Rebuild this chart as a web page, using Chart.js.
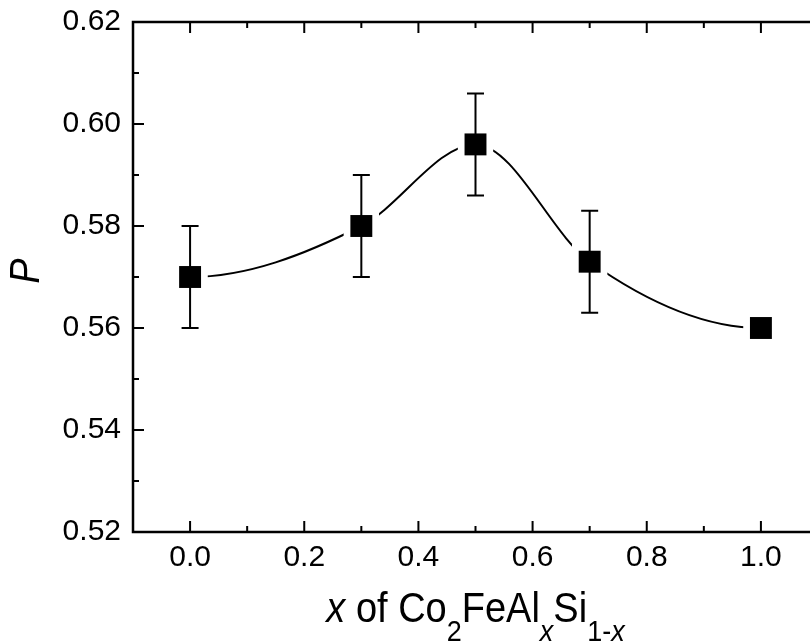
<!DOCTYPE html>
<html>
<head>
<meta charset="utf-8">
<script src="https://cdn.jsdelivr.net/npm/chart.js@4.4.1/dist/chart.umd.min.js"></script>
<style>
  html, body { margin: 0; padding: 0; background: #fff; overflow: hidden; width: 810px; height: 644px; }
  #wrap { width: 830px; height: 644px; }
  #chart { display: block; width: 830px; height: 644px; }
</style>
</head>
<body>
<div id="wrap"><canvas id="chart" width="830" height="644"></canvas></div>
<script>
// data
const xValues = [0.0, 0.3, 0.5, 0.7, 1.0];
const pValues = [0.570, 0.580, 0.596, 0.573, 0.560];
const pErrors = [0.010, 0.010, 0.010, 0.010, 0];

const xTicks = [0.0, 0.2, 0.4, 0.6, 0.8, 1.0];
const xMinorTicks = [-0.1, 0.1, 0.3, 0.5, 0.7, 0.9];
const yTicks = [0.52, 0.54, 0.56, 0.58, 0.60, 0.62];
const yMinorTicks = [0.53, 0.55, 0.57, 0.59, 0.61];

const points = xValues.map((x, i) => ({ x, y: pValues[i] }));
const font = '"Liberation Sans", Arial, Helvetica, sans-serif';

// flatten the spline at both ends, like the Origin fit in the figure
const flatEnds = {
  id: 'flatEnds',
  beforeDatasetsDraw(chart) {
    const line = chart.getDatasetMeta(2).dataset;
    line.updateControlPoints(chart.chartArea, 'x');
    const pts = line.points;
    pts[0].cp2y = pts[0].y;
    pts[pts.length - 1].cp1y = pts[pts.length - 1].y;
    line._path = undefined;
  }
};

// frame, inward ticks, tick labels, error bars and axis titles
const decor = {
  id: 'decor',
  afterDatasetsDraw(chart) {
    const { ctx, scales: { x, y } } = chart;
    ctx.save();
    ctx.strokeStyle = '#000';
    ctx.lineWidth = 2;
    xValues.forEach((v, i) => {
      if (!pErrors[i]) return;
      const px = x.getPixelForValue(v);
      const top = y.getPixelForValue(pValues[i] + pErrors[i]);
      const bot = y.getPixelForValue(pValues[i] - pErrors[i]);
      ctx.beginPath();
      ctx.moveTo(px, top); ctx.lineTo(px, bot);
      ctx.moveTo(px - 8.5, top); ctx.lineTo(px + 8.5, top);
      ctx.moveTo(px - 8.5, bot); ctx.lineTo(px + 8.5, bot);
      ctx.stroke();
    });
    ctx.restore();
  },
  afterDraw(chart) {
    const { ctx, chartArea: a, scales: { x, y } } = chart;
    ctx.save();
    ctx.strokeStyle = '#000';
    ctx.lineWidth = 2.5;
    ctx.beginPath();
    ctx.moveTo(a.right, a.top); ctx.lineTo(a.left, a.top);
    ctx.lineTo(a.left, a.bottom); ctx.lineTo(a.right, a.bottom);
    ctx.lineTo(a.right, a.top);
    ctx.stroke();

    ctx.lineWidth = 2;
    ctx.beginPath();
    xTicks.forEach(v => { const p = x.getPixelForValue(v); ctx.moveTo(p, a.bottom); ctx.lineTo(p, a.bottom - 11); ctx.moveTo(p, a.top); ctx.lineTo(p, a.top + 11); });
    xMinorTicks.forEach(v => { const p = x.getPixelForValue(v); ctx.moveTo(p, a.bottom); ctx.lineTo(p, a.bottom - 6); ctx.moveTo(p, a.top); ctx.lineTo(p, a.top + 6); });
    yTicks.forEach(v => { const p = y.getPixelForValue(v); ctx.moveTo(a.left, p); ctx.lineTo(a.left + 11, p); });
    yMinorTicks.forEach(v => { const p = y.getPixelForValue(v); ctx.moveTo(a.left, p); ctx.lineTo(a.left + 6, p); });
    ctx.stroke();

    // tick labels
    ctx.fillStyle = '#000';
    ctx.font = '30px ' + font;
    ctx.textBaseline = 'middle';
    ctx.textAlign = 'right';
    yTicks.forEach(v => ctx.fillText(v.toFixed(2), a.left - 12, y.getPixelForValue(v)));
    ctx.textAlign = 'center';
    xTicks.forEach(v => ctx.fillText(v.toFixed(1), x.getPixelForValue(v), a.bottom + 26));

    // y title
    ctx.save();
    ctx.translate(39, 271);
    ctx.rotate(-Math.PI / 2);
    ctx.scale(1, 1.1);
    ctx.font = 'italic 38px ' + font;
    ctx.textAlign = 'center';
    ctx.textBaseline = 'alphabetic';
    ctx.fillText('P', 0, 0);
    ctx.restore();

    // x title with subscripts
    const parts = [
      { t: 'x', it: true }, { t: ' of Co' }, { t: '2', sub: true }, { t: 'FeAl' },
      { t: 'x', it: true, sub: true }, { t: 'Si' }, { t: '1-', sub: true }, { t: 'x', it: true, sub: true }
    ];
    const fontOf = p => (p.it ? 'italic ' : '') + (p.sub ? '27px ' : '38px ') + font;
    let total = 0;
    parts.forEach(p => { ctx.font = fontOf(p); p.w = ctx.measureText(p.t).width; total += p.w; });
    let cx = (a.left + a.right) / 2 - total / 2;
    ctx.save();
    ctx.translate(0, 622);
    ctx.scale(1, 1.12);
    ctx.textAlign = 'left';
    ctx.textBaseline = 'alphabetic';
    parts.forEach(p => { ctx.font = fontOf(p); ctx.fillText(p.t, cx, p.sub ? 17 : 0); cx += p.w; });
    ctx.restore();
    ctx.restore();
  }
};

new Chart(document.getElementById('chart'), {
  type: 'scatter',
  data: {
    datasets: [
      { data: points, order: 1, pointStyle: 'rect', pointRadius: 15.5, backgroundColor: '#000', borderWidth: 0, showLine: false },
      { data: points, order: 2, pointStyle: 'rect', pointRadius: 25, backgroundColor: '#fff', borderWidth: 0, showLine: false },
      { data: points, order: 3, showLine: true, pointRadius: 0, borderColor: '#000', borderWidth: 2, cubicInterpolationMode: 'monotone', fill: false }
    ]
  },
  options: {
    responsive: false,
    animation: false,
    events: [],
    layout: { autoPadding: false, padding: { top: 22, right: 12, left: 0, bottom: 0 } },
    plugins: { legend: { display: false }, tooltip: { enabled: false } },
    scales: {
      x: {
        type: 'linear', min: -0.1, max: 1.1,
        afterBuildTicks: s => { s.ticks = xTicks.map(v => ({ value: v })); },
        afterFit: s => { s.height = 112; },
        grid: { display: false }, border: { display: false },
        ticks: { display: false }
      },
      y: {
        type: 'linear', min: 0.52, max: 0.62,
        afterBuildTicks: s => { s.ticks = yTicks.map(v => ({ value: v })); },
        afterFit: s => { s.width = 133; },
        grid: { display: false }, border: { display: false },
        ticks: { display: false }
      }
    }
  },
  plugins: [flatEnds, decor]
});
</script>
</body>
</html>
